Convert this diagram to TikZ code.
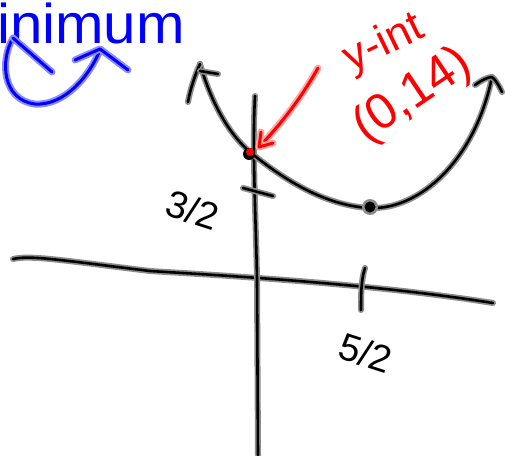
\documentclass[tikz,border=0pt]{standalone}
\usepackage{fontspec}
\setmainfont{Liberation Sans}
\begin{document}
\begin{tikzpicture}[x=1pt,y=-1pt,line cap=round,line join=round,
  pen/.style={draw=black,line width=2.6pt,preaction={draw=black!45,line width=6pt}},
  bluepen/.style={draw=blue,line width=3pt,preaction={draw=blue!45,line width=7pt}},
  redpen/.style={draw=red,line width=3pt,preaction={draw=red!35,line width=7pt}},
  lbl/.style={inner sep=0pt}]
\useasboundingbox (0,0) rectangle (505,455);
% axes
\draw[pen] (13,259) .. controls (30,255) and (60,260) .. (150,271) .. controls (250,277) and (380,285) .. (493,303);
\draw[pen] (255,96) .. controls (252,150) and (256,220) .. (257,280) -- (258,455);
% ticks
\draw[pen] (243,188) -- (273,196);
\draw[pen] (365,268) .. controls (361,280) and (361,295) .. (361,310);
% parabola
\draw[pen] (200,64) .. controls (212,105) and (230,135) .. (250,152) .. controls (290,185) and (330,206) .. (370,208) .. controls (420,210) and (475,160) .. (492,77);
\draw[pen] (188,102) .. controls (190,90) and (195,75) .. (200,64);
\draw[pen] (200,71) -- (218,74);
\draw[pen] (475,85) .. controls (482,80) and (488,77) .. (492,77) .. controls (496,80) and (499,86) .. (502,92);
% vertex
\fill[black!45] (370,207) circle (8);
\fill[black] (370,207) circle (5.5);
% y-intercept dot
\fill[black] (249,154) circle (6);
\fill[red] (250,152) circle (4);
% red arrow
\draw[redpen] (318,68) .. controls (300,100) and (280,125) .. (259,147);
\draw[redpen] (261,132) -- (259,147) -- (273,143);
\node[lbl,text=red,font=\fontsize{44}{44}\selectfont,rotate=26] (yint) at (384,44) {y-int};
\node[lbl,text=red,font=\fontsize{50}{50}\selectfont,rotate=34] (pt) at (413,96) {(0,14)};
% labels
\node[lbl,font=\fontsize{38}{38}\selectfont,rotate=-18] (a) at (193,210) {3/2};
\node[lbl,font=\fontsize{38}{38}\selectfont,rotate=-18] (b) at (366,353) {5/2};
% blue
\node[lbl,text=blue,font=\fontsize{56}{56}\selectfont,anchor=base west,xscale=1.04] (min) at (-3,43) {inimum};
\draw[bluepen] (13,38) .. controls (0,60) and (2,100) .. (35,104) .. controls (65,106) and (90,75) .. (100,50);
\draw[bluepen] (13,38) -- (52,72);
\draw[bluepen] (75,60) -- (100,49) -- (128,70);
\end{tikzpicture}
\end{document}
